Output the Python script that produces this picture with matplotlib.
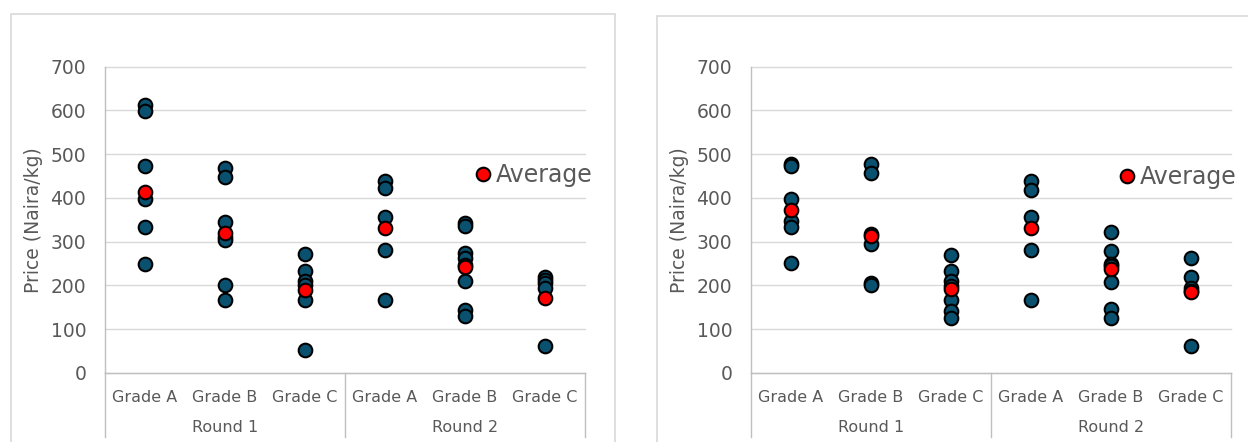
import matplotlib
matplotlib.use("Agg")
import matplotlib.pyplot as plt
from matplotlib.patches import Rectangle
from matplotlib.transforms import blended_transform_factory

# Category layout
grades = ["Grade A", "Grade B", "Grade C", "Grade A", "Grade B", "Grade C"]
rounds = ["Round 1", "Round 2"]
y_ticks = [0, 100, 200, 300, 400, 500, 600, 700]
y_label = "Price (Naira/kg)"
legend_label = "Average"

# Panel 1: individual prices per category (Round 1 A,B,C then Round 2 A,B,C)
p1_r1_a = [612, 598, 472, 397, 333, 250]
p1_r1_b = [468, 447, 346, 310, 304, 202, 166]
p1_r1_c = [272, 234, 209, 200, 166, 53]
p1_r2_a = [439, 423, 356, 280, 167]
p1_r2_b = [342, 335, 275, 262, 247, 209, 144, 130]
p1_r2_c = [220, 213, 205, 195, 62]
p1_avg = [413, 319, 189, 332, 241, 172]

# Panel 2
p2_r1_a = [478, 472, 398, 347, 334, 251]
p2_r1_b = [478, 456, 317, 294, 206, 200]
p2_r1_c = [270, 234, 210, 199, 167, 142, 125]
p2_r2_a = [438, 418, 357, 281, 167]
p2_r2_b = [323, 279, 248, 244, 208, 146, 125]
p2_r2_c = [263, 220, 193, 188, 62]
p2_avg = [373, 312, 191, 332, 238, 186]

panel1 = [p1_r1_a, p1_r1_b, p1_r1_c, p1_r2_a, p1_r2_b, p1_r2_c]
panel2 = [p2_r1_a, p2_r1_b, p2_r1_c, p2_r2_a, p2_r2_b, p2_r2_c]

W, H = 1248, 442
TEXT = "#595959"
GRID = "#D9D9D9"
AXIS = "#BFBFBF"
DOT = "#0A5170"
RED = "#FF0000"

plt.rcParams["font.family"] = ["DejaVu Sans"]

fig = plt.figure(figsize=(W / 100, H / 100), dpi=100)


def px_box(x0, y_top, x1, y_bot):
    return [x0 / W, 1 - y_bot / H, (x1 - x0) / W, (y_bot - y_top) / H]


def draw_panel(rect, groups, avg, frame, legend_xy, ylab_x):
    # chart frame
    fx0, fy0, fx1 = frame
    fig.patches.append(Rectangle((fx0 / W, -0.2), (fx1 - fx0) / W, 1.2 - fy0 / H,
                                 transform=fig.transFigure, fill=False,
                                 edgecolor=GRID, linewidth=1.2, zorder=0))

    ax = fig.add_axes(rect)
    ax.set_xlim(-0.5, len(groups) - 0.5)
    ax.set_ylim(0, 700)
    ax.set_yticks(y_ticks)
    ax.set_xticks([])
    ax.tick_params(axis="y", length=0, pad=13.5, labelsize=13.5, labelcolor=TEXT)
    ax.yaxis.grid(True, color=GRID, linewidth=1.0)
    for gl in ax.get_ygridlines():
        gl.set_clip_on(False)
    ax.set_axisbelow(True)
    for s in ["top", "right"]:
        ax.spines[s].set_visible(False)
    ax.spines["left"].set_color(AXIS)
    ax.spines["bottom"].set_color(AXIS)
    ax.spines["left"].set_linewidth(1.0)
    ax.spines["bottom"].set_linewidth(1.0)

    for i, vals in enumerate(groups):
        ax.plot([i] * len(vals), vals, linestyle="none", marker="o",
                markersize=9.8, markerfacecolor=DOT, markeredgecolor="black",
                markeredgewidth=1.5, zorder=3, clip_on=False)
    avg_line, = ax.plot(range(len(avg)), avg, linestyle="none", marker="o",
                        markersize=9.8, markerfacecolor=RED, markeredgecolor="black",
                        markeredgewidth=1.5, zorder=4, clip_on=False)

    # multi-level category axis
    tr = blended_transform_factory(ax.transData, ax.transAxes)
    h = rect[3] * H
    y_grade = -24 / h
    y_round = -54 / h
    y_end = -64 / h
    for i, g in enumerate(grades):
        ax.text(i, y_grade, g, transform=tr, ha="center", va="center",
                fontsize=11.5, color=TEXT)
    for j, r in enumerate(rounds):
        ax.text(3 * j + 1, y_round, r, transform=tr, ha="center", va="center",
                fontsize=11.5, color=TEXT)
    for xv in [-0.5, 2.5, 5.5]:
        ax.plot([xv, xv], [0, y_end], transform=tr, color=AXIS, linewidth=1.0,
                clip_on=False)

    ax.text(ylab_x, 1 - 220 / H, y_label, transform=fig.transFigure, rotation=90,
            ha="center", va="center", fontsize=13.5, color=TEXT)

    ax.legend(handles=[avg_line], labels=[legend_label], loc="center left",
              bbox_to_anchor=legend_xy, frameon=False, fontsize=17,
              handlelength=0.6, handletextpad=0.25, borderpad=0,
              borderaxespad=0, labelcolor=TEXT)
    return ax


draw_panel(px_box(105, 66.5, 585, 373), panel1, p1_avg, (11, 13.5, 615),
           ((476 - 105) / 480, (373 - 175) / 306.5), 34 / W)
draw_panel(px_box(751, 66.5, 1231, 373), panel2, p2_avg, (657, 15.5, 1300),
           ((1120 - 751) / 480, (373 - 177) / 306.5), 680 / W)

fig.savefig("out.png", dpi=100)
